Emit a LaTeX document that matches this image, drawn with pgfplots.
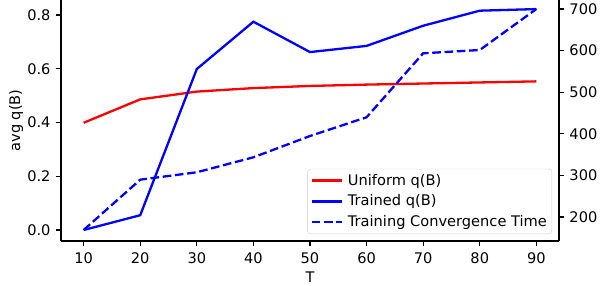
\documentclass[border=0pt]{standalone}
\usepackage{pgfplots}
\pgfplotsset{compat=1.18}
\usepackage{fontspec}
\setmainfont{DejaVu Sans}
\newcommand{\fs}{\fontsize{14.6}{17}\selectfont}
\begin{document}
\fs
\begin{tikzpicture}
\pgfplotsset{
  common/.style={
    scale only axis, width=498pt, height=241pt, at={(0,0)}, anchor=south west,
    xmin=6, xmax=94,
    tick align=outside, major tick length=5.4pt,
    axis line style={line width=1.25pt},
    every tick/.style={line width=1.25pt, black},
    /pgf/number format/assume math mode=true,
    tick label style={font=\fs},
    label style={font=\fs},
  }
}
\begin{axis}[common,
  axis y line*=left, axis x line*=bottom,
  ymin=-0.0409, ymax=0.8558,
  ytick={0,0.2,0.4,0.6,0.8},
  yticklabel style={/pgf/number format/fixed,/pgf/number format/fixed zerofill,/pgf/number format/precision=1},
  xtick={10,20,30,40,50,60,70,80,90},
  xticklabel style={yshift=-1pt},
  xlabel={T}, ylabel={avg q(B)},
  xlabel style={at={(axis description cs:0.5,-0.149)},anchor=center},
  ylabel style={at={(axis description cs:-0.0904,0.5)},anchor=center},
]
\addplot[red, line width=2.3pt] coordinates {
(10,0.399) (20,0.486) (30,0.515) (40,0.528) (50,0.536) (60,0.541) (70,0.545) (80,0.549) (90,0.553)};
\addplot[blue, line width=2.3pt] coordinates {
(10,0.0) (20,0.055) (30,0.599) (40,0.775) (50,0.662) (60,0.685) (70,0.760) (80,0.816) (90,0.822)};
\end{axis}
\begin{axis}[common,
  axis y line*=right, axis x line=none,
  ymin=142.3, ymax=721.6,
  ytick={200,300,400,500,600,700},
  legend cell align=left,
  legend style={at={(axis description cs:0.986,0.029)}, anchor=south east,
    draw=black!20, rounded corners=3pt, fill=white, fill opacity=0.8, text opacity=1,
    font=\fs, row sep=3.5pt, inner sep=3pt,
    /tikz/every odd column/.append style={column sep=3pt}},
  legend image code/.code={\draw[#1] (0pt,0pt) -- (30pt,0pt);},
]
\addlegendimage{red, line width=2.3pt}
\addlegendentry{Uniform q(B)}
\addlegendimage{blue, line width=2.3pt}
\addlegendentry{Trained q(B)}
\addplot[blue, line width=2.3pt, dash pattern=on 8.6pt off 3.7pt] coordinates {
(10,168.75) (20,289.7) (30,307.5) (40,343.5) (50,394.7) (60,439.7) (70,593.5) (80,601.4) (90,700)};
\addlegendentry{Training Convergence Time}
\end{axis}
\pgfresetboundingbox
\path[use as bounding box] (-61pt,-45pt) rectangle (552pt,241pt);
\end{tikzpicture}
\end{document}
